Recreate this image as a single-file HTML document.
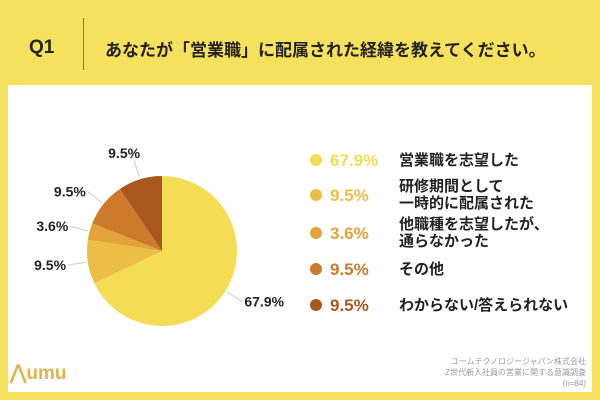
<!DOCTYPE html>
<html><head><meta charset="utf-8"><style>
body{margin:0;width:600px;height:400px;background:#F6E15E;font-family:"Liberation Sans","Noto Sans CJK JP",sans-serif;position:relative;overflow:hidden}
.abs{position:absolute}
#panel{left:8px;top:85px;width:584px;height:307px;background:#fff}
.pct{font-weight:bold;font-size:17px}
.lt{font-weight:bold;font-size:15px;color:#222;line-height:17px}
</style></head><body>
<div class="abs" style="left:29px;top:37px;font-size:19px;font-weight:bold;color:#222">Q1</div>
<div class="abs" style="left:83px;top:18px;width:1px;height:52px;background:#8a7a20"></div>
<div class="abs" style="left:105px;top:36px;font-size:17px;font-weight:bold;color:#222">あなたが「営業職」に配属された経緯を教えてください。</div>
<div class="abs" id="panel"></div>
<svg class="abs" style="left:0;top:0" width="600" height="400" id="chart"></svg>
<div class="abs" style="left:10px;top:360px;font-size:20px;font-weight:bold;color:#E0B44A">⋀<span style="font-size:19px">umu</span></div>
<div class="abs" style="right:14px;top:356px;text-align:right;font-size:8px;color:#999;line-height:11px">ユームテクノロジージャパン株式会社<br>Z世代新入社員の営業に関する意識調査<br>(n=84)</div>
<script>
const categories=["営業職を志望した","研修期間として<br>一時的に配属された","他職種を志望したが、<br>通らなかった","その他","わからない/答えられない"];
const values=[67.9,9.5,3.6,9.5,9.5];
const colors=["#F5DC55","#EDBE45","#E3A23A","#CD7A2C","#A8581E"];
const svg=document.getElementById('chart');
const NS="http://www.w3.org/2000/svg";
const cx=162,cy=251,r=75;
const total=values.reduce((a,b)=>a+b,0);
let a0=0;
values.forEach((v,i)=>{
  const a1=a0+v/total*2*Math.PI;
  const p=(a)=>[cx+r*Math.sin(a),cy-r*Math.cos(a)];
  const [x0,y0]=p(a0),[x1,y1]=p(a1);
  const path=document.createElementNS(NS,'path');
  path.setAttribute('d',`M${cx},${cy}L${x0},${y0}A${r},${r} 0 ${a1-a0>Math.PI?1:0} 1 ${x1},${y1}Z`);
  path.setAttribute('fill',colors[i]);
  
  
  svg.appendChild(path);
  const am=(a0+a1)/2;
  const lx1=cx+(r+2)*Math.sin(am),ly1=cy-(r+2)*Math.cos(am);
  const lx2=cx+(r+20)*Math.sin(am),ly2=cy-(r+20)*Math.cos(am);
  const ln=document.createElementNS(NS,'line');
  ln.setAttribute('x1',lx1);ln.setAttribute('y1',ly1);ln.setAttribute('x2',lx2);ln.setAttribute('y2',ly2);
  ln.setAttribute('stroke','#ccc');
  
  
  svg.appendChild(ln);
  const t=document.createElementNS(NS,'text');
  const right=Math.sin(am)>0;
  const top=Math.cos(am)>0.8;
  t.setAttribute('x',lx2+(right?2:-2)+(top?8:0));t.setAttribute('y',ly2+(top?-2:5));
  t.setAttribute('text-anchor',right?'start':'end');
  t.setAttribute('font-size','14');t.setAttribute('font-weight','bold');t.setAttribute('fill','#222');
  t.setAttribute('font-family','Liberation Sans, sans-serif');
  t.textContent=v.toFixed(1)+'%';
  
  
  svg.appendChild(t);
  a0=a1;
});
const rowsY=[161,196,234,270,306];
values.forEach((v,i)=>{
  const d=document.createElement('div');d.className='abs';
  d.style.cssText=`left:310px;top:${rowsY[i]-7}px;width:12px;height:12px;border-radius:50%;background:${colors[i]}`;
  
  
  document.body.appendChild(d);
  const p=document.createElement('div');p.className='abs pct';
  p.style.cssText+=`left:330px;top:${rowsY[i]-10}px;color:${colors[i]}`;
  p.textContent=v.toFixed(1)+'%';
  
  
  document.body.appendChild(p);
  const l=document.createElement('div');l.className='abs lt';
  const two=categories[i].includes('<br>');
  l.style.cssText+=`left:399px;top:${rowsY[i]-(two?18:9)}px`;
  l.innerHTML=categories[i];
  
  
  document.body.appendChild(l);
});
</script>
</body></html>
